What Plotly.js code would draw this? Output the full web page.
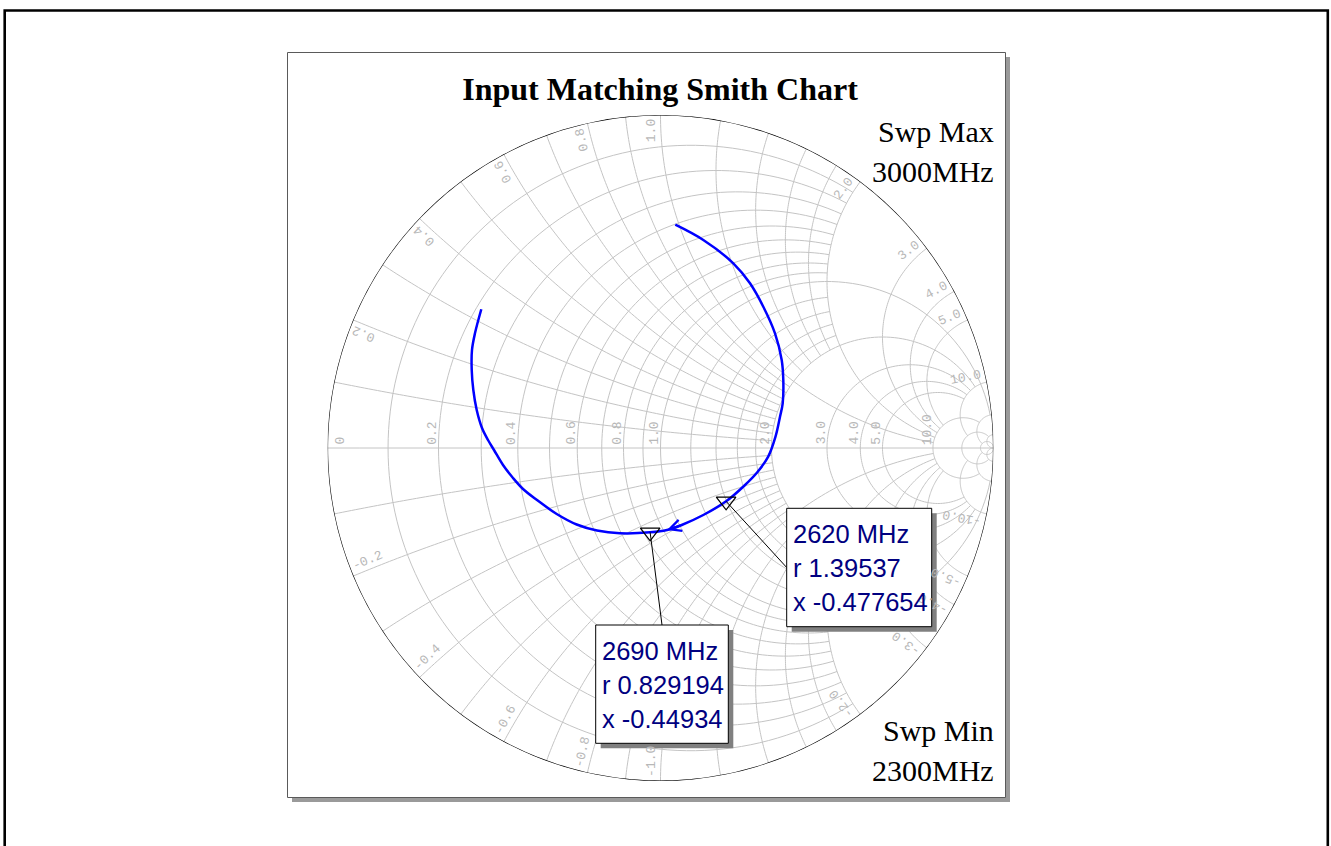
<!DOCTYPE html>
<html><head><meta charset="utf-8">
<script src="https://cdn.plot.ly/plotly-3.0.1.min.js"></script>
<style>html,body{margin:0;padding:0;background:#fff;}#chart{width:1331px;height:846px;}</style>
</head><body><div id="chart"></div>
<script>
// ---------------- data (impedance normalised to Z0) ----------------
const titleText = 'Input Matching Smith Chart';
// traced sweep 2300 MHz -> 3000 MHz (r = resistance, x = reactance)
const curveR = [0.4024,0.5161,0.7020,0.8766,1.1014,1.3896,1.6816,1.8682,2.0234,2.0538,2.0469,1.9517,1.7932,1.6154,1.39537,1.1788,1.0132,0.9188,0.829194,0.6947,0.6100,0.5458,0.4907,0.4402,0.4049,0.3807,0.3562,0.3333,0.3172,0.3001,0.2818,0.2646,0.2485,0.2335,0.2245,0.2114];
const curveX = [0.9841,1.0867,1.2081,1.2693,1.2899,1.2544,1.1142,0.9279,0.6411,0.4477,0.1579,-0.1140,-0.2840,-0.3939,-0.477654,-0.5030,-0.4972,-0.4819,-0.44934,-0.3870,-0.3350,-0.2837,-0.2252,-0.1641,-0.1224,-0.0862,-0.0470,-0.0053,0.0208,0.0508,0.0942,0.1410,0.1866,0.2318,0.2709,0.3281];
// markers
const markerMHz = [2620, 2690];
const markerR = [1.39537, 0.829194];
const markerX = [-0.477654, -0.44934];
// direction arrow on the trace (tail, tip)
const arrowR = [1.0132, 0.9188];
const arrowX = [-0.4972, -0.4819];
// sweep limits
const sweepMaxMHz = 3000, sweepMinMHz = 2300;
// grid values
const rGridVals = [0.1,0.2,0.3,0.4,0.5,0.6,0.7,0.8,0.9,1.0,1.2,1.4,1.6,1.8,2,3,4,5,10,20,50];
const xGridVals = [0.1,0.2,0.3,0.4,0.5,0.6,0.7,0.8,0.9,1.0,1.2,1.4,1.6,1.8,2,3,4,5,10,20,50];
const rLabelVals = [0,0.2,0.4,0.6,0.8,1.0,2.0,3.0,4.0,5.0,10.0];
const xLabelVals = [0.2,0.4,0.6,0.8,1.0,2.0,3.0,4.0,5.0,10.0];

// ---------------- grid style: how far each line reaches ----------------
const rGridReach = [2,2,2,2,2,2,2,2,2,20,2,2,2,2,10,10,10,10,20,50,1e6];
const xGridReach = [2,2,2,2,2,2,2,2,2,10,2,2,2,2,10,10,10,10,20,50,1e6];

// ---------------- geometry ----------------
const W = 1331, H = 846;
const CX = 660.5, CY = 448, RAD = 333;
const domX = [(CX - RAD) / W, (CX + RAD) / W];
const domY = [1 - (CY + RAD) / H, 1 - (CY - RAD) / H];
function gam(r, x) { const d = (r + 1) * (r + 1) + x * x; return [(r * r + x * x - 1) / d, 2 * x / d]; }
function toPx(r, x) { const g = gam(r, x); return [CX + g[0] * RAD, CY - g[1] * RAD]; }
const PX = p => p / W, PY = p => 1 - p / H;

// ---------------- grid traces ----------------
const gR = [], gX = [];
function addR(r, lim) {
  const bm = Math.atan(lim / (1 + r)), N = 140;
  for (let i = 0; i <= N; i++) { const b = -bm + 2 * bm * i / N; gR.push(r); gX.push((1 + r) * Math.tan(b)); }
  gR.push(null); gX.push(null);
}
function addX(x, lim) {
  const g0 = Math.atan(x), g1 = Math.atan(x / (1 + lim)), N = 100;
  for (let i = 0; i <= N; i++) { const g = g0 + (g1 - g0) * i / N; gR.push(Math.max(0, x / Math.tan(g) - 1)); gX.push(x); }
  gR.push(null); gX.push(null);
}
rGridVals.forEach((r, i) => addR(r, rGridReach[i]));
xGridVals.forEach((x, i) => { addX(x, xGridReach[i]); addX(-x, xGridReach[i]); });
[0, 0.05, 0.2, 0.5, 1, 2, 5, 20, 100, 1e6].forEach(r => { gR.push(r); gX.push(0); });

const oR = [], oX = [];
(function () { const N = 360, bm = Math.PI / 2 - 1e-7; for (let i = 0; i <= N; i++) { const b = -bm + 2 * bm * i / N; oR.push(0); oX.push(Math.tan(b)); } })();

const GRID = '#c4c4c4';
const traces = [
  { type: 'scattersmith', real: gR, imag: gX, mode: 'lines', line: { color: GRID, width: 1 }, hoverinfo: 'skip', connectgaps: false },
  { type: 'scattersmith', real: oR, imag: oX, mode: 'lines', line: { color: '#000', width: 1.2 }, hoverinfo: 'skip' },
  { type: 'scattersmith', real: curveR, imag: curveX, mode: 'lines', line: { color: '#0000ff', width: 2.5, shape: 'spline', smoothing: 1 }, hoverinfo: 'skip' },
  { type: 'scattersmith', real: markerR, imag: markerX, mode: 'markers', marker: { symbol: 'triangle-down-open', size: 17, color: '#000', line: { width: 1.2, color: '#000' } }, hoverinfo: 'skip' }
];

// ---------------- annotations & shapes ----------------
const annotations = [], shapes = [];
const LBL = { family: 'Liberation Mono, Courier New, monospace', size: 13, color: '#b8b8b8' };
const CH = 0.6 * LBL.size;
// resistance labels along the real axis
rLabelVals.forEach(r => {
  const t = r === 0 ? '0' : r.toFixed(1);
  const lx = toPx(r, 0)[0];
  const L = t.length * CH;
  const cx = r === 0 ? lx + 13 : lx - 6;
  annotations.push({ xref: 'paper', yref: 'paper', x: PX(cx), y: PY(CY - 3 - L / 2), text: t, showarrow: false, textangle: -90, font: LBL, xanchor: 'center', yanchor: 'middle', borderpad: 0 });
});
// reactance labels around the rim
xLabelVals.forEach(xv => {
  [xv, -xv].forEach(x => {
    const t = (x < 0 ? '-' : '') + Math.abs(x).toFixed(1);
    const g = gam(0, x);
    const th = Math.atan2(g[1], g[0]);
    const e = [Math.cos(th), Math.sin(th)];
    const up = x > 0 ? [-Math.sin(th), Math.cos(th)] : [Math.sin(th), -Math.cos(th)];
    const L = t.length * CH;
    const d = RAD - 4 - L / 2;
    const mx = d * e[0] + 9 * up[0], my = d * e[1] + 9 * up[1];
    let phi = (x > 0 ? th : th + Math.PI) * 180 / Math.PI;
    let ta = -phi; while (ta > 180) ta -= 360; while (ta <= -180) ta += 360;
    annotations.push({ xref: 'paper', yref: 'paper', x: PX(CX + mx), y: PY(CY - my), text: t, showarrow: false, textangle: ta, font: LBL, xanchor: 'center', yanchor: 'middle', borderpad: 0 });
  });
});

// marker boxes
const boxes = [
  { left: 786.7, top: 508.3, w: 145, h: 118.4, side: 'left' },
  { left: 595.7, top: 625, w: 132.6, h: 118.3, side: 'top' }
];
const BOXFONT = { family: 'Liberation Sans, Arial, sans-serif', size: 25.5, color: '#000080' };
markerR.forEach((r, i) => {
  const b = boxes[i];
  const p = toPx(r, markerX[i]);
  const end = b.side === 'left' ? [b.left, b.top + b.h / 2] : [b.left + b.w / 2, b.top];
  shapes.push({ type: 'line', xref: 'paper', yref: 'paper', x0: PX(p[0]), y0: PY(p[1]), x1: PX(end[0]), y1: PY(end[1]), line: { color: '#000', width: 1 } });
  shapes.push({ type: 'rect', xref: 'paper', yref: 'paper', x0: PX(b.left + 5), y0: PY(b.top + 5), x1: PX(b.left + b.w + 5), y1: PY(b.top + b.h + 5), fillcolor: '#808080', line: { width: 0 } });
  shapes.push({ type: 'rect', xref: 'paper', yref: 'paper', x0: PX(b.left), y0: PY(b.top), x1: PX(b.left + b.w), y1: PY(b.top + b.h), fillcolor: '#fff', line: { color: '#000', width: 1 } });
  const lines = [markerMHz[i] + ' MHz', 'r ' + r, 'x ' + markerX[i]];
  lines.forEach((s, k) => {
    const base = b.top + 35 + k * 34;
    annotations.push({ xref: 'paper', yref: 'paper', x: PX(b.left + 5), y: PY(base - 0.3465 * BOXFONT.size), text: s, showarrow: false, xanchor: 'left', yanchor: 'middle', font: BOXFONT, borderpad: 0 });
  });
});

// direction arrow
(function () {
  const tail = toPx(arrowR[0], arrowX[0]), tip = toPx(arrowR[1], arrowX[1]);
  annotations.push({ xref: 'paper', yref: 'paper', x: PX(tip[0]), y: PY(tip[1]), ax: tail[0] - tip[0], ay: tail[1] - tip[1], axref: 'pixel', ayref: 'pixel', text: '', showarrow: true, arrowhead: 5, arrowsize: 1.0, arrowwidth: 2.3, arrowcolor: '#0000ff', standoff: 0 });
})();

// sweep labels
const SERIF = { family: 'Liberation Serif, Times New Roman, serif', size: 30, color: '#000' };
[['Swp Max', 141.7], [sweepMaxMHz + 'MHz', 181.7], ['Swp Min', 740], [sweepMinMHz + 'MHz', 780]].forEach(a => {
  annotations.push({ xref: 'paper', yref: 'paper', x: PX(994.5), y: PY(a[1] - 10), text: a[0], showarrow: false, xanchor: 'right', yanchor: 'middle', font: SERIF, borderpad: 0 });
});

// panel and outer frame
shapes.unshift(
  { type: 'rect', layer: 'below', xref: 'paper', yref: 'paper', x0: PX(4.7), y0: PY(10.5), x1: PX(1327.8), y1: PY(900), fillcolor: 'rgba(0,0,0,0)', line: { color: '#000', width: 2.6 } },
  { type: 'rect', layer: 'below', xref: 'paper', yref: 'paper', x0: PX(292), y0: PY(57), x1: PX(1010), y1: PY(802), fillcolor: '#9a9a9a', line: { width: 0 } },
  { type: 'rect', layer: 'below', xref: 'paper', yref: 'paper', x0: PX(287.5), y0: PY(52.5), x1: PX(1005.5), y1: PY(797.5), fillcolor: '#fff', line: { color: '#5a5a5a', width: 1 } }
);

const axisOff = { showgrid: false, showline: false, showticklabels: false, ticks: '' };
const layout = {
  width: W, height: H, margin: { l: 0, r: 0, t: 0, b: 0, pad: 0 },
  paper_bgcolor: '#fff', showlegend: false,
  title: { text: '<b>' + titleText + '</b>', font: { family: 'Liberation Serif, Times New Roman, serif', size: 32, color: '#000' }, x: 660 / W, xanchor: 'center', y: 1 - 88.5 / H, yanchor: 'middle' },
  smith: { domain: { x: domX, y: domY }, bgcolor: 'rgba(0,0,0,0)', realaxis: Object.assign({}, axisOff), imaginaryaxis: Object.assign({}, axisOff) },
  annotations: annotations, shapes: shapes
};
Plotly.newPlot('chart', traces, layout, { staticPlot: true, displayModeBar: false });
</script></body></html>
